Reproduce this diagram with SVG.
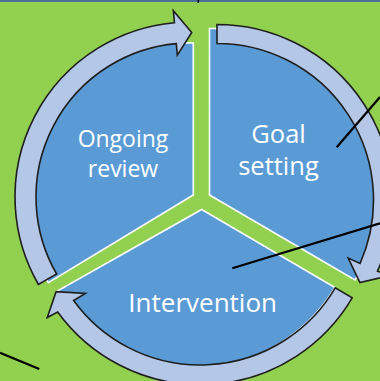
<svg xmlns="http://www.w3.org/2000/svg" width="380" height="381" viewBox="0 0 380 381">
<style>
.seg{fill:#5B9BD5;stroke:#FFFFFF;stroke-width:1.6;stroke-linejoin:miter}
.arr{fill:#B4C7E7;stroke:#1E1E1E;stroke-width:1.6;stroke-linejoin:miter}
.lbl{font-family:"Open Sans","Noto Sans","DejaVu Sans",sans-serif;fill:#FFFFFF;text-anchor:middle}
.ln{stroke:#000000;stroke-width:2.2;fill:none}
</style>
<rect x="0" y="0" width="380" height="381" fill="#92D050"/>
<line x1="0" y1="1" x2="380" y2="1" stroke="#4A6F98" stroke-width="2"/>
<line x1="198.3" y1="0" x2="198.3" y2="3" stroke="#000000" stroke-width="1.5"/>

<g id="node-ongoing-review">
<path class="seg" d="M193.3 195 L193.3 43 A160 160 0 0 0 48.3 282.7 Z"/>
</g>
<g id="node-goal-setting">
<path class="seg" d="M209.5 195 L209.5 28.5 A166 166 0 0 1 355 280 Z"/>
</g>
<g id="node-intervention">
<path class="seg" d="M201.7 209.5 L335 287.5 A164 164 0 0 1 56 291.7 Z"/>
</g>

<g id="connectors">
<path id="arrow-review-to-goal" class="arr" d="M38.45 284.5 A175 175 0 0 1 174.44 22.69 L173.38 10.74 L191.72 32.51 L177.33 55.06 L176.31 43.61 A154 154 0 0 0 56.63 274 Z"/>
<path id="arrow-goal-to-intervention" class="arr" d="M217 24.5 A175.5 175.5 0 0 1 377.45 271.1 L388.4 275.96 L359.9 282.5 L348.2 258.1 L360.1 263.4 A156.5 156.5 0 0 0 217 43.5 Z"/>
<path id="arrow-intervention-to-review" class="arr" d="M352.2 297.9 A176.3 176.3 0 0 1 57.67 312.03 L47.25 317.57 L56.11 291.65 L85.35 293.46 L73.61 300.45 A156.6 156.6 0 0 0 335.23 287.88 Z"/>
</g>

<g id="labels">
<text class="lbl" x="123" y="147" font-size="23">Ongoing</text>
<text class="lbl" x="123" y="177" font-size="23">review</text>
<text class="lbl" x="278.5" y="142.7" font-size="25.5">Goal</text>
<text class="lbl" x="278.5" y="175" font-size="25.5">setting</text>
<text class="lbl" x="202.7" y="311.7" font-size="26">Intervention</text>
</g>

<g id="lines">
<line class="ln" x1="380" y1="97" x2="336.7" y2="147.3"/>
<line class="ln" x1="380" y1="223.3" x2="232.3" y2="268.3"/>
<line class="ln" x1="0" y1="352.7" x2="39.3" y2="369"/>
</g>
</svg>
